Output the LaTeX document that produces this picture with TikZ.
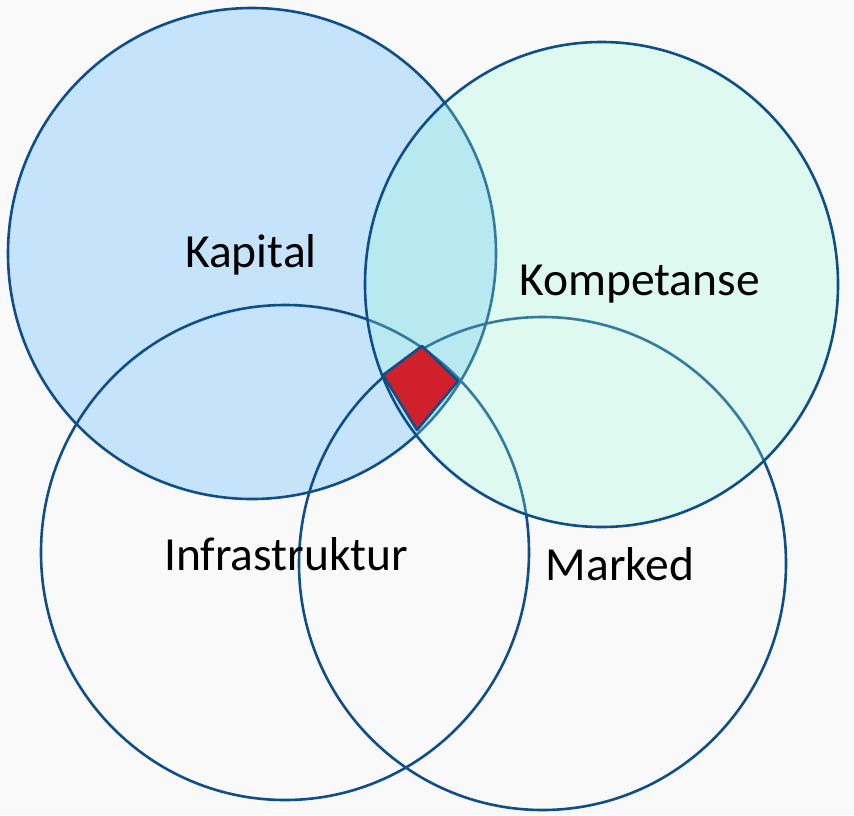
\documentclass[tikz,border=0pt]{standalone}
\usepackage{fontspec}
\setmainfont{Carlito}
\definecolor{bgc}{RGB}{249,249,249}
\definecolor{linec}{RGB}{14,78,138}
\definecolor{kapfill}{RGB}{197,227,250}
\definecolor{kompfill}{RGB}{152,249,215}
\definecolor{redc}{RGB}{208,32,43}
\begin{document}
\begin{tikzpicture}[x=1pt,y=-1pt,
  ring/.style={draw=linec,line width=2.6pt},
  lbl/.style={font=\fontsize{47.5}{52}\selectfont,anchor=base,inner sep=0pt,text=black}]
\fill[bgc] (0,0) rectangle (854,815);
\useasboundingbox (0,0) rectangle (854,815);
% Kapital
\fill[kapfill] (252,253.5) ellipse[x radius=244,y radius=245.5];
\draw[ring] (252,253.5) ellipse[x radius=244,y radius=245.5];
% Infrastruktur and Marked outlines
\draw[ring] (285,552.5) ellipse[x radius=244,y radius=247.5];
\draw[ring] (542.5,563.5) ellipse[x radius=243.5,y radius=246.5];
% Kompetanse (translucent)
\fill[kompfill,fill opacity=0.27] (601.5,284.5) ellipse[x radius=236.5,y radius=242.5];
\draw[ring] (601.5,284.5) ellipse[x radius=236.5,y radius=242.5];
% labels
\node[lbl] (kap) at (251,267) {Kapital};
\node[lbl] (komp) at (639.5,295) {Kompetanse};
\node[lbl] (infra) at (286,570) {Infrastruktur};
\node[lbl] (mark) at (620,580) {Marked};
% centre diamond
\coordinate (dl) at (383,375);
\coordinate (dt) at (422,346);
\coordinate (dr) at (458,381);
\coordinate (db) at (417,430);
\filldraw[fill=redc,draw=linec,line width=2.6pt,line join=round] (dl) -- (dt) -- (dr) -- (db) -- cycle;
\end{tikzpicture}
\end{document}
